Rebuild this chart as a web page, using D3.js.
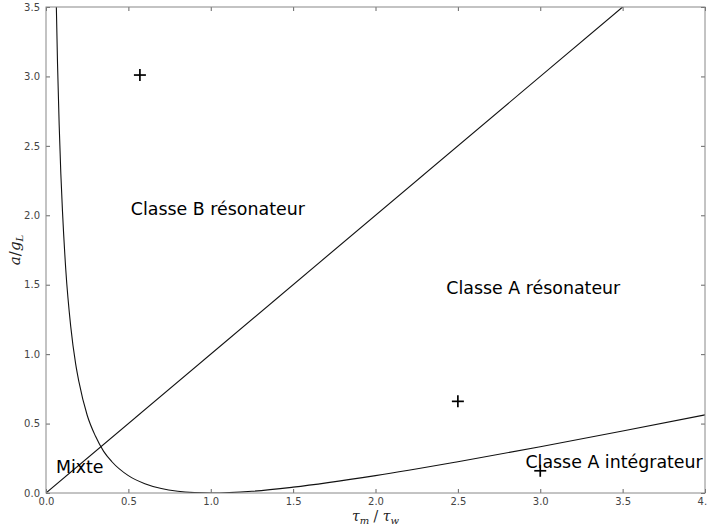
<!DOCTYPE html>
<html><head><meta charset="utf-8">
<script src="https://cdn.jsdelivr.net/npm/d3@7"></script>
<style>
html,body{margin:0;padding:0;background:#fff;}
svg{display:block;}
</style>
</head><body>
<script>
// ---- data ----
const xTicks = [0.0, 0.5, 1.0, 1.5, 2.0, 2.5, 3.0, 3.5, 4.0];
const yTicks = [0.0, 0.5, 1.0, 1.5, 2.0, 2.5, 3.0, 3.5];
// boundary curve
const curveX = [0.0625, 0.07, 0.08, 0.09, 0.10, 0.12, 0.15, 0.18, 0.20, 0.25, 0.30, 0.35, 0.40, 0.50, 0.60, 0.70, 0.80, 0.90, 1.00, 1.25, 1.50, 2.00, 2.50, 3.00, 3.50, 4.00];
const curveY = [3.52, 3.09, 2.65, 2.30, 2.03, 1.61, 1.20, 0.93, 0.80, 0.56, 0.41, 0.30, 0.225, 0.125, 0.067, 0.032, 0.0125, 0.003, 0.0, 0.0125, 0.042, 0.125, 0.225, 0.333, 0.446, 0.5625];
// diagonal line
const diagX = [0.0, 3.5];
const diagY = [0.0, 3.5];
// "+" markers
const markX = [0.57, 2.5, 3.0];
const markY = [3.01, 0.66, 0.16];
// region labels
const labelText = ["Classe B résonateur", "Classe A résonateur", "Mixte", "Classe A intégrateur"];
const labelX = [0.515, 2.43, 0.06, 2.91];
const labelY = [2.0, 1.43, 0.142, 0.18];

// ---- drawing ----
const W = 707, H = 527;
const L = 46, R = 705, T = 7, B = 493;
const svg = d3.select("body").append("svg").attr("width", W).attr("height", H);
const x = d3.scaleLinear().domain([0, 4]).range([L, R]);
const y = d3.scaleLinear().domain([0, 3.5]).range([B, T]);

svg.append("defs").append("clipPath").attr("id", "clip")
  .append("rect").attr("x", L).attr("y", T).attr("width", R - L).attr("height", B - T);

const plot = svg.append("g").attr("clip-path", "url(#clip)");

const line = d3.line().x(d => x(d[0])).y(d => y(d[1]));
plot.append("path").datum(diagX.map((v, i) => [v, diagY[i]]))
  .attr("d", line).attr("fill", "none").attr("stroke", "#111").attr("stroke-width", 1.1);
plot.append("path").datum(curveX.map((v, i) => [v, curveY[i]]))
  .attr("d", line.curve(d3.curveMonotoneX)).attr("fill", "none").attr("stroke", "#111").attr("stroke-width", 1.1);

// markers
const ms = 6;
markX.forEach((mx, i) => {
  const g = plot.append("g").attr("stroke", "#000").attr("stroke-width", 1.7);
  g.append("line").attr("x1", x(mx) - ms).attr("x2", x(mx) + ms).attr("y1", y(markY[i])).attr("y2", y(markY[i]));
  g.append("line").attr("x1", x(mx)).attr("x2", x(mx)).attr("y1", y(markY[i]) - ms).attr("y2", y(markY[i]) + ms);
});

// labels
labelText.forEach((t, i) => {
  svg.append("text").attr("x", x(labelX[i])).attr("y", y(labelY[i]))
    .attr("font-family", "DejaVu Sans").attr("font-size", 17.4).attr("fill", "#000")
    .text(t);
});

// axes (ticks inside, classic style)
const tickLen = 4;
const axB = d3.axisBottom(x).tickValues(xTicks).tickFormat(d3.format(".1f")).tickSizeInner(-tickLen).tickSizeOuter(0).tickPadding(5);
const axL = d3.axisLeft(y).tickValues(yTicks).tickFormat(d3.format(".1f")).tickSizeInner(-tickLen).tickSizeOuter(0).tickPadding(6);
const axT = d3.axisTop(x).tickValues(xTicks).tickFormat("").tickSizeInner(-tickLen).tickSizeOuter(0);
const axR = d3.axisRight(y).tickValues(yTicks).tickFormat("").tickSizeInner(-tickLen).tickSizeOuter(0);

function style(g) {
  g.select(".domain").remove();
  g.selectAll(".tick line").attr("stroke", "#666");
  g.selectAll(".tick text").attr("font-family", "DejaVu Sans").attr("font-size", 10).attr("fill", "#444");
}
svg.append("g").attr("transform", `translate(0,${B})`).call(axB).call(style);
svg.append("g").attr("transform", `translate(${L},0)`).call(axL).call(style);
svg.append("g").attr("transform", `translate(0,${T})`).call(axT).call(style);
svg.append("g").attr("transform", `translate(${R},0)`).call(axR).call(style);

// frame
svg.append("rect").attr("x", L).attr("y", T).attr("width", R - L).attr("height", B - T)
  .attr("fill", "none").attr("stroke", "#888").attr("stroke-width", 1);

// axis titles
const xt = svg.append("text").attr("x", (L + R) / 2).attr("y", 521).attr("text-anchor", "middle")
  .attr("font-family", "DejaVu Serif").attr("font-style", "italic").attr("font-size", 14).attr("fill", "#222");
xt.append("tspan").text("τ");
xt.append("tspan").attr("font-size", 10).attr("dy", 3).text("m");
xt.append("tspan").attr("dy", -3).attr("font-style", "normal").text(" / ");
xt.append("tspan").text("τ");
xt.append("tspan").attr("font-size", 10).attr("dy", 3).text("w");

const yt = svg.append("text").attr("transform", `translate(20,${(T + B) / 2}) rotate(-90)`).attr("text-anchor", "middle")
  .attr("font-family", "DejaVu Serif").attr("font-style", "italic").attr("font-size", 15).attr("fill", "#222");
yt.append("tspan").text("a");
yt.append("tspan").attr("font-style", "normal").text("/");
yt.append("tspan").text("g");
yt.append("tspan").attr("font-size", 10).attr("dy", 3).text("L");
</script>
</body></html>
